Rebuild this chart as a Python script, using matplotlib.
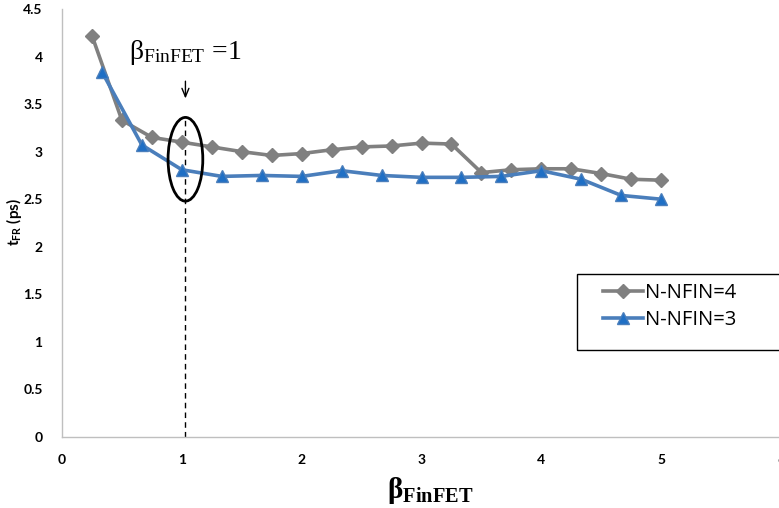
import matplotlib
matplotlib.use("Agg")
import matplotlib.pyplot as plt
from matplotlib.patches import Ellipse, Rectangle

# data
x_nfin4 = [0.25, 0.5, 0.75, 1.0, 1.25, 1.5, 1.75, 2.0, 2.25, 2.5, 2.75, 3.0, 3.25,
           3.5, 3.75, 4.0, 4.25, 4.5, 4.75, 5.0]
y_nfin4 = [4.22, 3.33, 3.15, 3.10, 3.05, 3.00, 2.96, 2.98, 3.02, 3.05, 3.06, 3.09, 3.08,
           2.78, 2.81, 2.82, 2.82, 2.77, 2.71, 2.70]

x_nfin3 = [1/3, 2/3, 1.0, 4/3, 5/3, 2.0, 7/3, 8/3, 3.0, 10/3, 11/3, 4.0, 13/3, 14/3, 5.0]
y_nfin3 = [3.84, 3.07, 2.81, 2.74, 2.75, 2.74, 2.80, 2.75, 2.73, 2.73, 2.74, 2.80, 2.71, 2.54, 2.50]

label_nfin4 = "N-NFIN=4"
label_nfin3 = "N-NFIN=3"
x_ticks = [0, 1, 2, 3, 4, 5, 6]
y_ticks = [0, 0.5, 1, 1.5, 2, 2.5, 3, 3.5, 4, 4.5]
beta_mark = 1.03

# math text uses the font of the text object itself
plt.rcParams['mathtext.default'] = 'regular'

fig = plt.figure(figsize=(7.79, 5.08), dpi=100)
W, H = 779, 508
ax = fig.add_axes([62 / W, (H - 437) / H, (781 - 62) / W, (437 - 9) / H])

ax.plot(x_nfin4, y_nfin4, color='#808080', lw=2.6, marker='D', ms=7.5,
        markerfacecolor='#808080', markeredgecolor='#808080', label=label_nfin4, zorder=3)
ax.plot(x_nfin3, y_nfin3, color='#4a7ebb', lw=2.6, marker='^', ms=9,
        markerfacecolor='#1f6fc5', markeredgecolor='#4a7ebb', label=label_nfin3, zorder=4)

ax.set_xlim(0, 6)
ax.set_ylim(0, 4.5)
ax.set_xticks(x_ticks)
ax.set_yticks(y_ticks)
ax.set_xticklabels([str(t) for t in x_ticks])
ax.set_yticklabels([f"{t:g}" for t in y_ticks])
ax.tick_params(length=0, labelsize=10)
ax.tick_params(axis='y', pad=14)
ax.tick_params(axis='x', pad=12)
for lab in ax.get_xticklabels() + ax.get_yticklabels():
    lab.set_fontweight('bold')
    lab.set_fontfamily('Lato')

for s in ['top', 'right']:
    ax.spines[s].set_visible(False)
for s in ['left', 'bottom']:
    ax.spines[s].set_color('#bfbfbf')
    ax.spines[s].set_linewidth(1.0)

# y label
fig.text(14 / W, 1 - 222 / H, r"t$_{FR}$ (ps)", rotation=90, ha='center', va='center',
         fontsize=11, fontweight='bold', family='Lato')
# x label
fig.text(430 / W, 1 - 490 / H, r"β$_{FinFET}$", ha='center', va='center',
         fontsize=21, fontweight='bold', family='Liberation Serif')

# annotation around beta = 1
ax.plot([beta_mark, beta_mark], [0, 3.38], color='black', lw=1.0, ls=(0, (4, 3)), zorder=2)
ax.add_patch(Ellipse((beta_mark, 2.92), 0.29, 0.88, fill=False, edgecolor='black', lw=2, zorder=5))
ax.annotate("", xy=(beta_mark, 3.53), xytext=(beta_mark, 3.77),
            arrowprops=dict(arrowstyle='->,head_length=0.6,head_width=0.25', color='black', lw=1.0))
ax.text(beta_mark, 4.04, r"β$_{FinFET}$ =1", ha='center', va='center', fontsize=20,
        family='Liberation Serif')

# legend box, cut off at the right edge like the reference
fig.add_artist(Rectangle((577 / W, 1 - 350 / H), 0.3, 76 / H, transform=fig.transFigure,
                         fill=False, edgecolor='black', lw=1.0, clip_on=False))
ax.legend(loc='upper left', bbox_to_anchor=(603 / W, 1 - 283 / H), bbox_transform=fig.transFigure,
          frameon=False, handlelength=2.0, handletextpad=0.1, labelspacing=0.35,
          borderpad=0, borderaxespad=0, prop={'family': 'Open Sans', 'size': 14.5})

fig.savefig("out.png", dpi=100)
